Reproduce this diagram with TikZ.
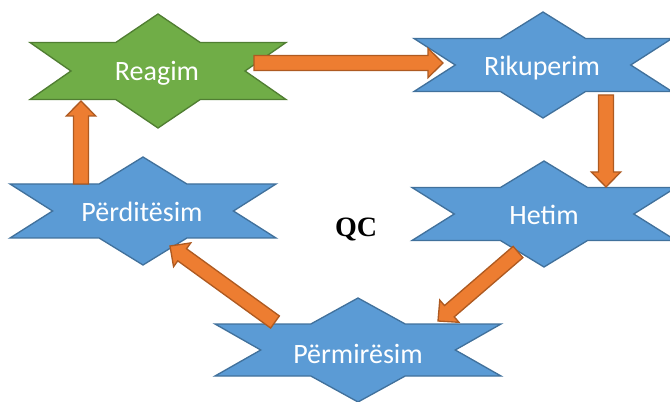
\documentclass[tikz,border=0pt]{standalone}
\usepackage{fontspec}
\setmainfont{Carlito}
\newfontfamily\qcfont{Liberation Serif}
\usetikzlibrary{calc}
\definecolor{sblue}{HTML}{5B9BD5}
\definecolor{sblueb}{HTML}{41719C}
\definecolor{sgreen}{HTML}{70AD47}
\definecolor{sgreenb}{HTML}{507E32}
\definecolor{sorange}{HTML}{ED7D31}
\definecolor{sorangeb}{HTML}{AE5A21}
\tikzset{
 hexstar/.pic={\path[pic actions] (-1,0.5) -- (-0.33,0.5) -- (0,1) -- (0.33,0.5) -- (1,0.5) -- (0.68,0) -- (1,-0.5) -- (0.33,-0.5) -- (0,-1) -- (-0.33,-0.5) -- (-1,-0.5) -- (-0.68,0) -- cycle;},
 bluestar/.style={fill=sblue, draw=sblueb, line width=1pt},
 greenstar/.style={fill=sgreen, draw=sgreenb, line width=1pt},
 lbl/.style={text=white, font=\fontsize{21}{25}\selectfont, anchor=base, inner sep=0pt},
 qclbl/.style={font=\qcfont\bfseries\fontsize{21}{25}\selectfont, anchor=base, inner sep=0pt},
 barrow/.style={fill=sorange, draw=sorangeb, line width=1pt},
}
\newcommand\blockarrow[2]{%
 \coordinate (hb) at ($(#2)!11.25pt!(#1)$);
 \draw[barrow] ($(#1)!5.6pt!90:(#2)$) -- ($(hb)!5.6pt!90:(#2)$) -- ($(hb)!11pt!90:(#2)$) -- (#2) -- ($(hb)!11pt!-90:(#2)$) -- ($(hb)!5.6pt!-90:(#2)$) -- ($(#1)!5.6pt!-90:(#2)$) -- cycle;}
\begin{document}
\begin{tikzpicture}[x=0.75pt,y=-0.75pt]
\useasboundingbox (0,0) rectangle (670,402);
% stars
\pic[greenstar, xscale=128, yscale=57] at (158,71) {hexstar};
\pic[bluestar, xscale=129, yscale=53] at (543,65) {hexstar};
\pic[bluestar, xscale=133, yscale=54] at (143,211) {hexstar};
\pic[bluestar, xscale=132, yscale=53] at (544,214) {hexstar};
\pic[bluestar, xscale=143, yscale=52] at (358,350) {hexstar};
% labels
\node[lbl] (reagim) at (157,81) {Reagim};
\node[lbl] (rikuperim) at (542,76) {Rikuperim};
\node[lbl] (perditesim) at (142,222) {Përditësim};
\node[lbl] (hetim) at (544,225) {Hetim};
\node[lbl] (permiresim) at (358,363) {Përmirësim};
\node[qclbl] (qc) at (356,237) {QC};
% arrow end points
\coordinate (a1s) at (254,63);  \coordinate (a1e) at (443,63);
\coordinate (a2s) at (606,95);  \coordinate (a2e) at (606,187);
\coordinate (a3s) at (518,252); \coordinate (a3e) at (438,321);
\coordinate (a4s) at (275,322); \coordinate (a4e) at (170,246);
\coordinate (a5s) at (81,184);  \coordinate (a5e) at (81,101);
\blockarrow{a1s}{a1e}
\blockarrow{a2s}{a2e}
\blockarrow{a3s}{a3e}
\blockarrow{a4s}{a4e}
\blockarrow{a5s}{a5e}
\end{tikzpicture}
\end{document}
